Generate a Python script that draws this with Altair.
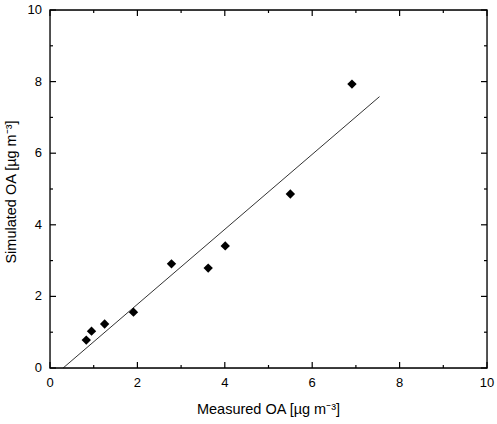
import altair as alt
import pandas as pd

# Measured vs simulated organic aerosol (µg m^-3)
measured = [0.83, 0.95, 1.25, 1.91, 2.78, 3.62, 4.01, 5.50, 6.91]
simulated = [0.78, 1.03, 1.23, 1.56, 2.91, 2.79, 3.41, 4.86, 7.93]

# Fitted regression line end points
fit_x = [0.30, 7.54]
fit_y = [0.00, 7.58]

major_ticks = [0, 2, 4, 6, 8, 10]
minor_ticks = [1, 3, 5, 7, 9]
tick_labels = ["0", "2", "4", "6", "8", "10"]

x_title = ["Measured OA [µg m⁻³]"]
y_title = ["Simulated OA [µg m⁻³]"]

W, H = 437, 358
FONT = "Liberation Sans"
LO, HI = 0, 10

pts = pd.DataFrame({"m": measured, "s": simulated})
fit = pd.DataFrame({"m": fit_x, "s": fit_y})
majors = pd.DataFrame({"t": major_ticks, "lab": tick_labels})
minors = pd.DataFrame({"t": minor_ticks})
one = pd.DataFrame({"k": [0]})

xs = alt.Scale(domain=[LO, HI], nice=False, zero=False)
ys = alt.Scale(domain=[LO, HI], nice=False, zero=False)
xt = alt.X("t:Q", scale=xs, axis=None)
yt = alt.Y("t:Q", scale=ys, axis=None)

points = alt.Chart(pts).mark_point(
    shape="diamond", filled=True, size=88, color="black", opacity=1
).encode(
    x=alt.X("m:Q", scale=xs, axis=None),
    y=alt.Y("s:Q", scale=ys, axis=None),
)

line = alt.Chart(fit).mark_line(color="#333333", strokeWidth=1).encode(
    x=alt.X("m:Q", scale=xs, axis=None),
    y=alt.Y("s:Q", scale=ys, axis=None),
)

# plot frame as an unfilled rectangle over the full data domain
frame = alt.Chart(one).mark_rect(
    fill="transparent", stroke="black", strokeWidth=1.3
).encode(
    x=alt.X(datum=LO, type="quantitative", scale=xs, axis=None),
    x2=alt.X2(datum=HI),
    y=alt.Y(datum=LO, type="quantitative", scale=ys, axis=None),
    y2=alt.Y2(datum=HI),
)


def tick_layers(df, length):
    # inward-pointing tick marks on all four sides, drawn as short strokes
    half = length / 2
    style = dict(shape="stroke", size=length * length, filled=False,
                 stroke="black", strokeWidth=1.2, opacity=1)
    bottom = alt.Chart(df).mark_point(angle=90, **style).encode(
        x=xt, y=alt.value(H - half))
    top = alt.Chart(df).mark_point(angle=90, **style).encode(
        x=xt, y=alt.value(half))
    left = alt.Chart(df).mark_point(**style).encode(
        y=yt, x=alt.value(half))
    right = alt.Chart(df).mark_point(**style).encode(
        y=yt, x=alt.value(W - half))
    return [bottom, top, left, right]


label_style = dict(font=FONT, fontSize=13, color="black")
x_labels = alt.Chart(majors).mark_text(baseline="top", align="center", **label_style).encode(
    x=xt, y=alt.value(H + 9), text="lab:N")
y_labels = alt.Chart(majors).mark_text(baseline="middle", align="right", **label_style).encode(
    y=yt, x=alt.value(-8), text="lab:N")

title_style = dict(font=FONT, fontSize=14.5, color="black", baseline="alphabetic", align="center")
x_title_mark = alt.Chart(pd.DataFrame({"txt": x_title})).mark_text(**title_style).encode(
    x=alt.value(W / 2), y=alt.value(H + 46), text="txt:N")
y_title_mark = alt.Chart(pd.DataFrame({"txt": y_title})).mark_text(angle=270, **title_style).encode(
    x=alt.value(-34), y=alt.value(H / 2 + 3), text="txt:N")

chart = alt.layer(
    line, points, frame, *tick_layers(majors, 6), *tick_layers(minors, 3),
    x_labels, y_labels, x_title_mark, y_title_mark,
).properties(
    width=W, height=H,
    autosize=alt.AutoSizeParams(type="none"),
    padding={"left": 50, "top": 10, "right": 10, "bottom": 56},
).configure_view(
    stroke="black", strokeWidth=1.3, fill="white"
).configure(background="white")

chart.save("out.html", embed_options={"renderer": "svg", "actions": False})
